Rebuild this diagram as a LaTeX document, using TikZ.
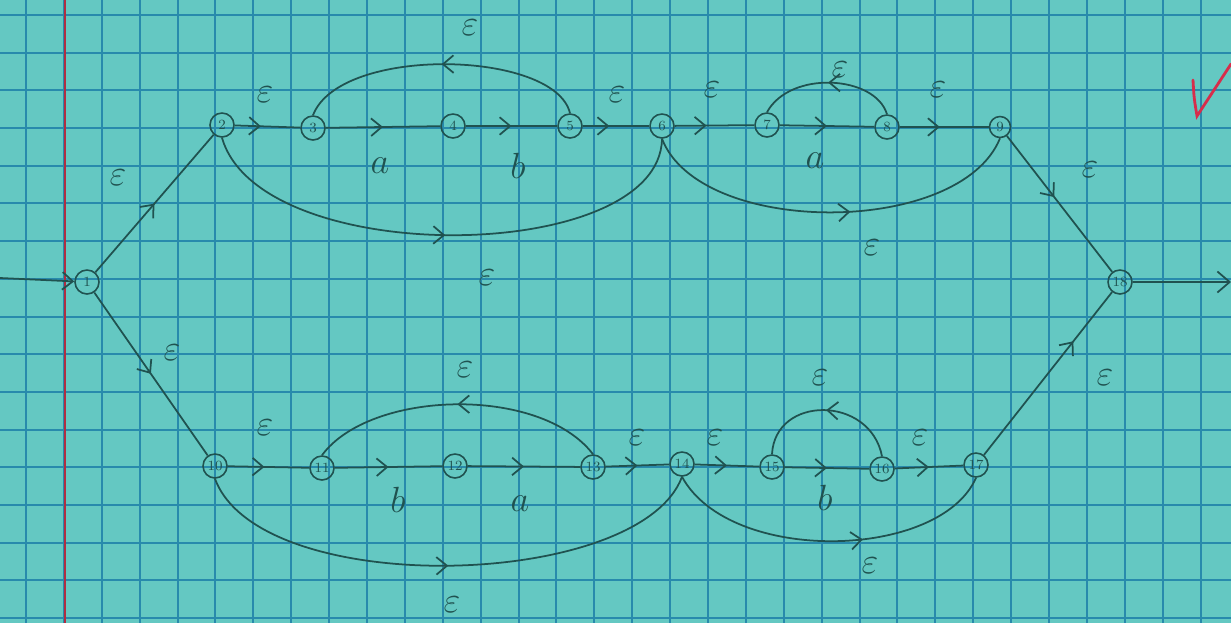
\documentclass[tikz,border=0pt]{standalone}
\usetikzlibrary{decorations.markings,arrows.meta}
\definecolor{paper}{RGB}{100,200,194}
\definecolor{gridc}{RGB}{40,138,172}
\definecolor{ink}{RGB}{32,82,80}
\definecolor{marginc}{RGB}{175,45,65}
\definecolor{checkc}{RGB}{215,45,75}
\begin{document}
\begin{tikzpicture}[x=0.02cm,y=-0.02cm,
  st/.style={circle,draw=ink,line width=0.9pt,minimum size=0.48cm,inner sep=0pt,font=\footnotesize,text=ink},
  tr/.style={draw=ink,line width=1pt,postaction={decorate},
    decoration={markings,mark=at position #1 with {\arrow{Straight Barb[length=6pt,width=10pt,line width=1pt]}}}},
  tr/.default=0.5,
  lab/.style={text=ink,font=\huge},
  gl/.style={draw=gridc,line width=0.04cm}]
\useasboundingbox (0,0) rectangle (1231,623);
\fill[paper] (0,0) rectangle (1231,623);
\foreach \k in {0,...,31} \draw[gl] ({round(26+37.89*\k)},0) -- ({round(26+37.89*\k)},623);
\foreach \k in {0,...,16} \draw[gl] (0,{round(15+37.7*\k)}) -- (1231,{round(15+37.7*\k)});
\draw[marginc,line width=0.04cm] (65,0) -- (65,623);
\draw[checkc,line width=1.6pt,line cap=round] (1193,80) .. controls (1194,98) .. (1197,116) -- (1231,64);
% states
\node[st] (n1) at (87,282) {1};
\node[st] (n2) at (222,125) {2};
\node[st] (n3) at (313,128) {3};
\node[st] (n4) at (453,126) {4};
\node[st] (n5) at (570,126) {5};
\node[st] (n6) at (662,126) {6};
\node[st] (n7) at (767,125) {7};
\node[st] (n8) at (887,127) {8};
\node[st,minimum size=0.42cm] (n9) at (1000,127) {9};
\node[st] (n18) at (1120,282) {18};
\node[st] (n10) at (215,466) {10};
\node[st] (n11) at (322,468) {11};
\node[st] (n12) at (455,466) {12};
\node[st] (n13) at (593,467) {13};
\node[st] (n14) at (682,464) {14};
\node[st] (n15) at (772,467) {15};
\node[st] (n16) at (882,469) {16};
\node[st] (n17) at (976,465) {17};
\coordinate (in) at (0,278);
\coordinate (out) at (1231,282);
% start / end
\draw[draw=ink,line width=1pt,-{Straight Barb[length=6pt,width=10pt]}] (in) -- (n1);
\draw[draw=ink,line width=1pt,-{Straight Barb[length=7pt,width=12pt]}] (n18) -- (out);
% upper branch
\draw[tr] (n1) -- (n2);
\draw[tr=0.4] (n2) -- (n3);
\draw[tr] (n3) -- (n4);
\draw[tr] (n4) -- (n5);
\draw[tr=0.4] (n5) -- (n6);
\draw[tr=0.4] (n6) -- (n7);
\draw[tr] (n7) -- (n8);
\draw[tr=0.45] (n8) -- (n9);
\draw[tr=0.45] (n9) -- (n18);
\draw[tr] (n5.north) .. controls (555,50) and (340,45) .. (n3.north);
\draw[tr] (n2.south) .. controls (260,270) and (660,265) .. (n6.south);
\draw[tr] (n8.north) .. controls (875,75) and (790,70) .. (n7.north);
\draw[tr=0.55] (n6.south) .. controls (700,237) and (960,237) .. (n9.south);
% lower branch
\draw[tr] (n1) -- (n10);
\draw[tr=0.45] (n10) -- (n11);
\draw[tr] (n11) -- (n12);
\draw[tr] (n12) -- (n13);
\draw[tr] (n13) -- (n14);
\draw[tr] (n14) -- (n15);
\draw[tr] (n15) -- (n16);
\draw[tr] (n16) -- (n17);
\draw[tr=0.7] (n17) -- (n18);
\draw[tr] (n13.north) .. controls (540,385) and (370,390) .. (n11.north);
\draw[tr] (n16.north) .. controls (870,395) and (775,395) .. (n15.north);
\draw[tr] (n10.south) .. controls (260,600) and (640,590) .. (n14.south);
\draw[tr=0.6] (n14.south) .. controls (730,565) and (940,560) .. (n17.south);
% labels
\node[lab] (l12) at (118,178) {$\varepsilon$};
\node[lab] (l23) at (265,95) {$\varepsilon$};
\node[lab] (l34) at (380,166) {$a$};
\node[lab] (l45) at (518,166) {$b$};
\node[lab] (l53) at (470,28) {$\varepsilon$};
\node[lab] (l56) at (617,95) {$\varepsilon$};
\node[lab] (l26) at (487,278) {$\varepsilon$};
\node[lab] (l67) at (712,90) {$\varepsilon$};
\node[lab] (l78) at (815,161) {$a$};
\node[lab] (l87) at (840,70) {$\varepsilon$};
\node[lab] (l89) at (938,90) {$\varepsilon$};
\node[lab] (l69) at (872,248) {$\varepsilon$};
\node[lab] (l918) at (1090,170) {$\varepsilon$};
\node[lab] (l110) at (172,353) {$\varepsilon$};
\node[lab] (l1011) at (265,428) {$\varepsilon$};
\node[lab] (l1112) at (398,500) {$b$};
\node[lab] (l1213) at (520,504) {$a$};
\node[lab] (l1311) at (465,370) {$\varepsilon$};
\node[lab] (l1314) at (637,438) {$\varepsilon$};
\node[lab] (l1415) at (715,438) {$\varepsilon$};
\node[lab] (l1516) at (825,498) {$b$};
\node[lab] (l1615) at (820,378) {$\varepsilon$};
\node[lab] (l1617) at (920,438) {$\varepsilon$};
\node[lab] (l1014) at (452,605) {$\varepsilon$};
\node[lab] (l1417) at (870,566) {$\varepsilon$};
\node[lab] (l1718) at (1105,378) {$\varepsilon$};
\end{tikzpicture}
\end{document}
